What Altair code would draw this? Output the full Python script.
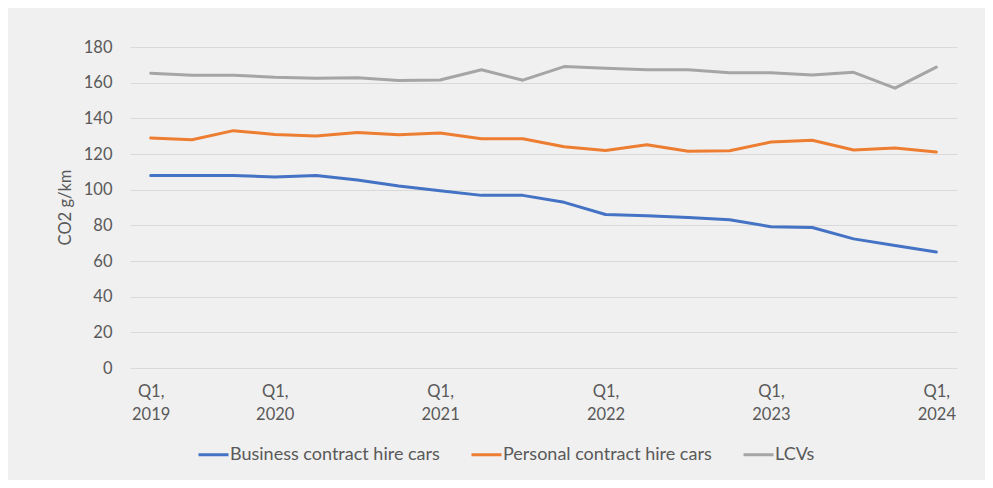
import altair as alt
import pandas as pd

quarters = ["Q1, 2019", "Q2, 2019", "Q3, 2019",
            "Q1, 2020", "Q2, 2020", "Q3, 2020", "Q4, 2020",
            "Q1, 2021", "Q2, 2021", "Q3, 2021", "Q4, 2021",
            "Q1, 2022", "Q2, 2022", "Q3, 2022", "Q4, 2022",
            "Q1, 2023", "Q2, 2023", "Q3, 2023", "Q4, 2023",
            "Q1, 2024"]

business = [108.0, 108.0, 108.0, 107.1, 108.0, 105.4, 102.0, 99.4, 96.8, 96.8,
            92.9, 86.1, 85.4, 84.4, 83.1, 79.2, 78.8, 72.4, 68.7, 65.1]
personal = [129.0, 128.0, 133.1, 131.0, 130.1, 132.0, 130.8, 131.8, 128.6, 128.6,
            124.1, 122.0, 125.2, 121.5, 121.8, 126.7, 127.7, 122.2, 123.4, 121.1]
lcv = [165.3, 164.2, 164.2, 163.0, 162.5, 162.8, 161.2, 161.5, 167.2, 161.4,
       169.0, 168.1, 167.2, 167.3, 165.6, 165.5, 164.3, 165.8, 156.9, 168.7]

series_names = ["Business contract hire cars", "Personal contract hire cars", "LCVs"]
series_colors = ["#4472C4", "#ED7D31", "#A5A5A5"]
x_label_values = ["Q1, 2019", "Q1, 2020", "Q1, 2021", "Q1, 2022", "Q1, 2023", "Q1, 2024"]
y_ticks = [0, 20, 40, 60, 80, 100, 120, 140, 160, 180]

rows = []
for name, vals in zip(series_names, [business, personal, lcv]):
    for q, v in zip(quarters, vals):
        rows.append({"quarter": q, "value": v, "series": name})
df = pd.DataFrame(rows)

FONT = "Lato"
TXT = "#595959"

chart = alt.Chart(df).mark_line(strokeWidth=3, strokeJoin="round", strokeCap="round").encode(
    x=alt.X("quarter:N", sort=quarters,
            scale=alt.Scale(type="point", padding=0.5),
            axis=alt.Axis(values=x_label_values, title=None, labelAngle=0,
                          labelExpr="split(datum.value, ' ')",
                          labelLineHeight=23, labelPadding=15,
                          ticks=False, domain=False, grid=False,
                          labelOverlap=False)),
    y=alt.Y("value:Q", scale=alt.Scale(domain=[0, 180], nice=False),
            axis=alt.Axis(values=y_ticks, title="CO2 g/km", ticks=False, domain=False,
                          grid=True, gridColor="#d9d9d9", gridWidth=1,
                          labelPadding=18,
                          titleX=-65, titleY=160, titleAngle=-90,
                          titleAlign="center", titleBaseline="middle")),
    color=alt.Color("series:N",
                    scale=alt.Scale(domain=series_names, range=series_colors),
                    sort=series_names,
                    legend=alt.Legend(title=None, orient="none", direction="horizontal",
                                      legendX=67, legendY=391,
                                      symbolType="stroke", symbolSize=900,
                                      symbolStrokeWidth=3, labelOffset=0,
                                      columnPadding=25)),
).properties(
    width=827, height=321,
    autosize=alt.AutoSizeParams(type="none"),
    padding={"left": 122, "top": 39, "right": 28, "bottom": 112},
).configure(
    background="#f0f0f0",
    font=FONT,
).configure_view(
    stroke=None,
).configure_axis(
    labelFont=FONT, labelFontSize=16.5, labelColor=TXT,
    titleFont=FONT, titleFontSize=16.5, titleColor=TXT, titleFontWeight="normal",
).configure_legend(
    labelFont=FONT, labelFontSize=18, labelColor=TXT, labelLimit=400,
)

chart.save("out.html", embed_options={"renderer": "svg", "actions": False})
